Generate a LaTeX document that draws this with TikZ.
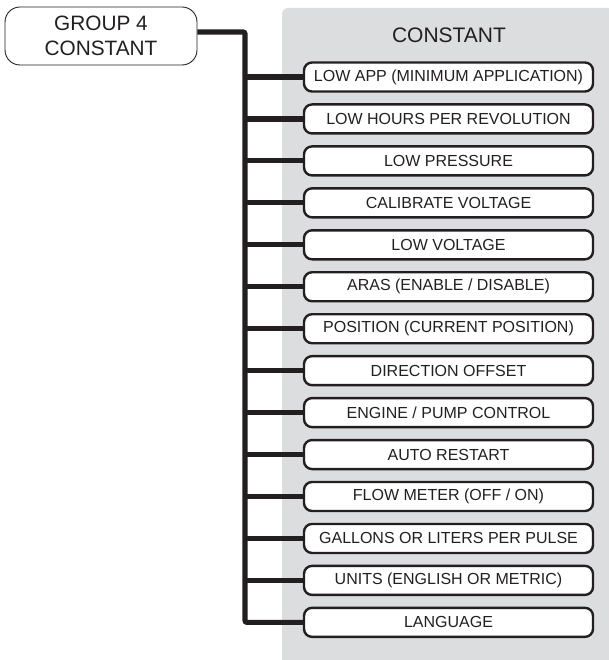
\documentclass[tikz,border=0pt]{standalone}
\usepackage{fontspec}
\setmainfont{Liberation Sans}
\definecolor{panelgray}{HTML}{DCDDDE}
\definecolor{ink}{HTML}{231F20}
\tikzset{
  itembox/.style={draw=ink, line width=2.4pt, fill=white, rounded corners=8pt,
    minimum width=289pt, minimum height=29pt, inner sep=0pt, text=ink,
    font=\fontsize{16}{18}\selectfont},
  groupbox/.style={draw=ink, line width=0.9pt, fill=white, rounded corners=15pt,
    minimum width=192pt, minimum height=58pt, inner sep=0pt, text=ink, align=center,
    font=\fontsize{20.8}{25}\selectfont},
  conn/.style={draw=ink, line width=5.2pt},
}
\begin{document}
\begin{tikzpicture}[x=1pt,y=-1pt]
\useasboundingbox (0,0) rectangle (608,660);
\fill[panelgray, rounded corners=6pt] (282,8) rectangle (614,668);
\node[text=ink, font=\fontsize{21}{24}\selectfont] (title) at (449,35) {CONSTANT};
\node[groupbox] (g) at (101,36) {GROUP 4\\CONSTANT};
\foreach \i/\t in {1/{LOW APP (MINIMUM APPLICATION)},
  2/{LOW HOURS PER REVOLUTION},
  3/{LOW PRESSURE},
  4/{CALIBRATE VOLTAGE},
  5/{LOW VOLTAGE},
  6/{ARAS (ENABLE / DISABLE)},
  7/{POSITION (CURRENT POSITION)},
  8/{DIRECTION OFFSET},
  9/{ENGINE / PUMP CONTROL},
  10/{AUTO RESTART},
  11/{FLOW METER (OFF / ON)},
  12/{GALLONS OR LITERS PER PULSE},
  13/{UNITS (ENGLISH OR METRIC)},
  14/{LANGUAGE}}
{
  \node[itembox] (b\i) at (448.5,{77+(\i-1)*41.95}) {\t};
}
\coordinate (gout) at ([yshift=4pt]g.east);
\coordinate (trunk) at (245,0);
\draw[conn, rounded corners=2pt] (gout) -- (gout -| trunk) -- (trunk |- b14.west) -- (b14.west);
\foreach \i in {1,...,13}{
  \draw[conn] (trunk |- b\i.west) -- (b\i.west);
}
\end{tikzpicture}
\end{document}
